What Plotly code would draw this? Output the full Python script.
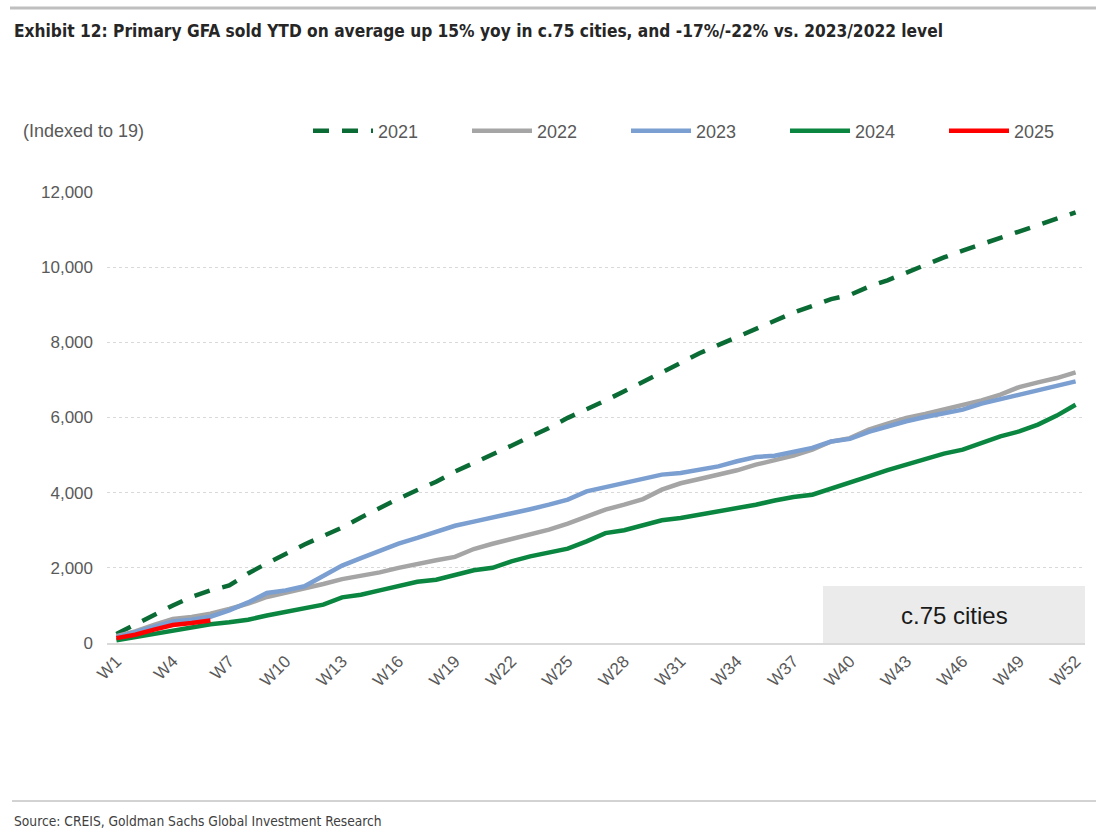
import plotly.graph_objects as go

weeks = [f"W{i}" for i in range(1, 53)]
tick_labels = [f"W{i}" for i in range(1, 53, 3)]

s2021 = [240, 500, 760, 1000, 1230, 1400, 1530, 1850, 2120, 2380,
         2620, 2850, 3070, 3340, 3600, 3840, 4070, 4290, 4560, 4780,
         5030, 5250, 5490, 5720, 5990, 6210, 6450, 6700, 6940, 7180,
         7450, 7710, 7930, 8130, 8340, 8580, 8790, 8970, 9150, 9260,
         9480, 9650, 9860, 10080, 10260, 10440, 10610, 10780, 10930, 11100,
         11280, 11460]
s2022 = [180, 310, 480, 640, 690, 780, 905, 1045, 1225, 1330,
         1440, 1570, 1700, 1775, 1880, 2000, 2110, 2200, 2290, 2500,
         2640, 2770, 2880, 3015, 3175, 3370, 3550, 3680, 3830, 4080,
         4250, 4365, 4480, 4595, 4745, 4860, 4985, 5145, 5360, 5450,
         5675, 5835, 5990, 6095, 6210, 6325, 6455, 6610, 6810, 6935,
         7050, 7200]
s2023 = [150, 280, 430, 570, 620, 700, 870, 1080, 1330, 1400,
         1510, 1775, 2060, 2260, 2465, 2645, 2795, 2945, 3120, 3230,
         3330, 3440, 3560, 3680, 3815, 4035, 4150, 4240, 4365, 4480,
         4525, 4610, 4700, 4835, 4950, 4985, 5075, 5190, 5360, 5430,
         5620, 5765, 5900, 6015, 6120, 6210, 6370, 6490, 6610, 6725,
         6830, 6960]
s2024 = [70, 160, 250, 340, 410, 500, 550, 620, 730, 820,
         915, 1020, 1215, 1285, 1400, 1525, 1630, 1685, 1820, 1935,
         2000, 2170, 2305, 2395, 2510, 2705, 2925, 3000, 3120, 3265,
         3325, 3415, 3485, 3590, 3680, 3790, 3885, 3945, 4100, 4275,
         4435, 4600, 4745, 4920, 5040, 5145, 5320, 5500, 5630, 5810,
         6050, 6340]
s2025 = [130, 220, 355, 480, 530, 600]

series = [
    ("2021", s2021, "#0B6B35", "16px,13px"),
    ("2022", s2022, "#A5A5A5", "solid"),
    ("2023", s2023, "#7B9FD1", "solid"),
    ("2024", s2024, "#0A8641", "solid"),
    ("2025", s2025, "#FF0000", "solid"),
]
legend_left_px = [313, 472, 631, 790, 949]

W, H = 1096, 831
L, R, T, B = 107, 11, 192, 188
pw = W - L - R
ph = H - T - B

def px(x):
    return (x - L) / pw

def py(y):
    return (H - B - y) / ph

base_font = "Liberation Sans, Arial, sans-serif"
narrow = "DejaVu Sans Condensed, Arial Narrow, sans-serif"

fig = go.Figure()
legend_layouts = {}
for i, (name, vals, color, dash) in enumerate(series):
    lg = "legend" if i == 0 else f"legend{i + 1}"
    fig.add_trace(go.Scatter(
        x=weeks[:len(vals)], y=vals, name=name, mode="lines",
        line=dict(color=color, width=4.5, dash=dash), legend=lg,
    ))
    legend_layouts[lg] = dict(
        orientation="h", x=px(legend_left_px[i] - 5), y=py(131),
        xanchor="left", yanchor="middle",
        font=dict(size=18, color="#595959", family=base_font),
        itemwidth=60, bgcolor="rgba(0,0,0,0)", borderwidth=0,
    )

fig.update_layout(
    width=W, height=H,
    margin=dict(l=L, r=R, t=T, b=B),
    paper_bgcolor="white", plot_bgcolor="white",
    font=dict(family=base_font, color="#595959", size=17),
    showlegend=True,
    xaxis=dict(
        type="category", categoryorder="array", categoryarray=weeks,
        tickmode="array", tickvals=tick_labels, ticktext=tick_labels,
        tickangle=-45, tickfont=dict(size=17, color="#595959"),
        showgrid=False, showline=True, linecolor="#D9D9D9", linewidth=1.5,
        ticks="", range=[-0.5, 51.5],
    ),
    yaxis=dict(
        range=[0, 12000], dtick=2000, tickformat=",",
        showgrid=True, gridcolor="#D9D9D9", griddash="dot", gridwidth=1,
        zeroline=False, showline=False, ticks="",
        tickfont=dict(size=17, color="#595959"), ticklabelstandoff=13,
    ),
    **legend_layouts,
)

fig.add_shape(type="rect", xref="paper", yref="paper",
              x0=px(823), x1=1.0, y0=0.0, y1=py(586),
              fillcolor="#EBEBEB", line=dict(width=0), layer="below")

annotations = [
    dict(text="c.75 cities", x=px(954), y=py(615), xref="paper", yref="paper",
         showarrow=False, font=dict(size=24, color="#1a1a1a", family=base_font),
         xanchor="center", yanchor="middle"),
    dict(text="<b>Exhibit 12: Primary GFA sold YTD on average up 15% yoy in c.75 cities, and -17%/-22% vs. 2023/2022 level</b>",
         x=px(12), y=py(31), xref="paper", yref="paper", showarrow=False,
         font=dict(size=17.2, color="#262626", family=narrow),
         xanchor="left", yanchor="middle"),
    dict(text="(Indexed to 19)", x=px(21), y=py(131), xref="paper", yref="paper",
         showarrow=False, font=dict(size=18, color="#595959", family=base_font),
         xanchor="left", yanchor="middle"),
    dict(text="Source: CREIS, Goldman Sachs Global Investment Research",
         x=px(12), y=py(821), xref="paper", yref="paper", showarrow=False,
         font=dict(size=13.7, color="#404040", family=narrow),
         xanchor="left", yanchor="middle"),
]
fig.update_layout(annotations=annotations)

fig.add_shape(type="line", xref="paper", yref="paper",
              x0=px(10), x1=px(1096), y0=py(8), y1=py(8),
              line=dict(color="#BFBFBF", width=3))
fig.add_shape(type="line", xref="paper", yref="paper",
              x0=px(12), x1=px(1096), y0=py(801), y1=py(801),
              line=dict(color="#A6A6A6", width=1))

fig.write_html("out.html",
               config={"displayModeBar": False},
               post_script="document.body.style.margin='0';document.body.style.overflow='hidden';")
